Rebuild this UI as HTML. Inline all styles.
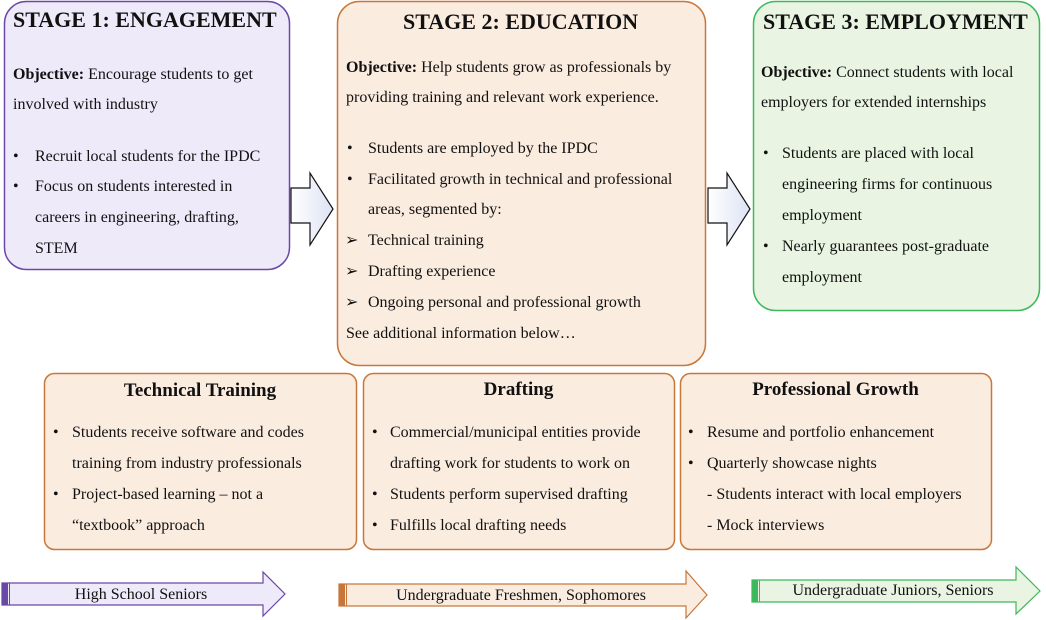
<!DOCTYPE html>
<html><head><meta charset="utf-8"><style>
body{margin:0;width:1046px;height:620px;background:#fff;position:relative;overflow:hidden;font-family:"Liberation Serif",serif;color:#111}
.t{position:absolute;font-size:16px;line-height:20px;white-space:nowrap}
.h{position:absolute;font-size:22px;font-weight:bold;line-height:26px;white-space:nowrap}
.h2{position:absolute;font-size:19px;font-weight:bold;line-height:24px;white-space:nowrap;text-align:center}
svg{position:absolute;left:0;top:0}
</style></head><body>
<svg width="1046" height="620">
<rect x="4.5" y="1.5" width="285" height="268" rx="22" fill="#efeafa" stroke="#6a48a8" stroke-width="1.5"/>
<rect x="337.5" y="1.5" width="368" height="364" rx="22" fill="#fbece0" stroke="#c8773a" stroke-width="1.5"/>
<rect x="753.5" y="1.5" width="286" height="309" rx="22" fill="#e9f5e2" stroke="#3cb95a" stroke-width="1.5"/>
<rect x="44.5" y="373.5" width="312" height="176" rx="10" fill="#fbece0" stroke="#c8773a" stroke-width="1.5"/>
<rect x="363.5" y="373.5" width="311" height="176" rx="10" fill="#fbece0" stroke="#c8773a" stroke-width="1.5"/>
<rect x="680.5" y="373.5" width="311" height="176" rx="10" fill="#fbece0" stroke="#c8773a" stroke-width="1.5"/>
<defs><linearGradient id="g" x1="0" x2="1"><stop offset="0" stop-color="#fff"/><stop offset="1" stop-color="#dde3f3"/></linearGradient></defs>
<polygon points="291,188 310,188 310,173 333,209 310,245 310,223 291,223" fill="url(#g)" stroke="#111" stroke-width="1.2"/>
<polygon points="708,188 727,188 727,173 750,209 727,245 727,223 708,223" fill="url(#g)" stroke="#111" stroke-width="1.2"/>
<polygon points="2,583 263,583 263,572 285,594 263,616 263,605 2,605" fill="#efeafa" stroke="#6a48a8" stroke-width="1.2"/>
<rect x="2" y="583" width="6" height="22" fill="#6a48a8"/><line x1="9.5" y1="583" x2="9.5" y2="605" stroke="#6a48a8"/>
<polygon points="339,584 686,584 686,571 707,595 686,618 686,606 339,606" fill="#fbece0" stroke="#c8773a" stroke-width="1.2"/>
<rect x="339" y="584" width="6" height="22" fill="#c8773a"/><line x1="346.5" y1="584" x2="346.5" y2="606" stroke="#c8773a"/>
<polygon points="752,580 1016,580 1016,567 1040,591 1016,614 1016,602 752,602" fill="#e9f5e2" stroke="#3cb95a" stroke-width="1.2"/>
<rect x="752" y="580" width="6" height="22" fill="#3cb95a"/><line x1="759.5" y1="580" x2="759.5" y2="602" stroke="#3cb95a"/>
</svg>

<div class="h" style="left:13px;top:7px">STAGE 1: ENGAGEMENT</div>
<div class="t" style="left:13px;top:65px"><b>Objective:</b> Encourage students to get</div>
<div class="t" style="left:13px;top:95px">involved with industry</div>
<div class="t" style="left:13px;top:147px">•</div><div class="t" style="left:35px;top:147px">Recruit local students for the IPDC</div>
<div class="t" style="left:13px;top:177px">•</div><div class="t" style="left:35px;top:177px">Focus on students interested in</div>
<div class="t" style="left:35px;top:208px">careers in engineering, drafting,</div>
<div class="t" style="left:35px;top:239px">STEM</div>

<div class="h" style="left:403px;top:9px">STAGE 2: EDUCATION</div>
<div class="t" style="left:346px;top:58px"><b>Objective:</b> Help students grow as professionals by</div>
<div class="t" style="left:346px;top:88px">providing training and relevant work experience.</div>
<div class="t" style="left:347px;top:139px">•</div><div class="t" style="left:368px;top:139px">Students are employed by the IPDC</div>
<div class="t" style="left:347px;top:170px">•</div><div class="t" style="left:368px;top:170px">Facilitated growth in technical and professional</div>
<div class="t" style="left:368px;top:200px">areas, segmented by:</div>
<div class="t" style="left:345px;top:231px">➢</div><div class="t" style="left:368px;top:231px">Technical training</div>
<div class="t" style="left:345px;top:262px">➢</div><div class="t" style="left:368px;top:262px">Drafting experience</div>
<div class="t" style="left:345px;top:293px">➢</div><div class="t" style="left:368px;top:293px">Ongoing personal and professional growth</div>
<div class="t" style="left:346px;top:324px">See additional information below…</div>

<div class="h" style="left:763px;top:9px">STAGE 3: EMPLOYMENT</div>
<div class="t" style="left:761px;top:63px"><b>Objective:</b> Connect students with local</div>
<div class="t" style="left:761px;top:93px">employers for extended internships</div>
<div class="t" style="left:763px;top:144px">•</div><div class="t" style="left:782px;top:144px">Students are placed with local</div>
<div class="t" style="left:782px;top:175px">engineering firms for continuous</div>
<div class="t" style="left:782px;top:206px">employment</div>
<div class="t" style="left:763px;top:237px">•</div><div class="t" style="left:782px;top:237px">Nearly guarantees post-graduate</div>
<div class="t" style="left:782px;top:268px">employment</div>

<div class="h2" style="left:44px;width:312px;top:379px">Technical Training</div>
<div class="t" style="left:53px;top:423px">•</div><div class="t" style="left:72px;top:423px">Students receive software and codes</div>
<div class="t" style="left:72px;top:454px">training from industry professionals</div>
<div class="t" style="left:53px;top:485px">•</div><div class="t" style="left:72px;top:485px">Project-based learning – not a</div>
<div class="t" style="left:72px;top:516px">“textbook” approach</div>

<div class="h2" style="left:363px;width:311px;top:378px">Drafting</div>
<div class="t" style="left:372px;top:423px">•</div><div class="t" style="left:390px;top:423px">Commercial/municipal entities provide</div>
<div class="t" style="left:390px;top:454px">drafting work for students to work on</div>
<div class="t" style="left:372px;top:485px">•</div><div class="t" style="left:390px;top:485px">Students perform supervised drafting</div>
<div class="t" style="left:372px;top:516px">•</div><div class="t" style="left:390px;top:516px">Fulfills local drafting needs</div>

<div class="h2" style="left:680px;width:311px;top:378px">Professional Growth</div>
<div class="t" style="left:688px;top:423px">•</div><div class="t" style="left:707px;top:423px">Resume and portfolio enhancement</div>
<div class="t" style="left:688px;top:454px">•</div><div class="t" style="left:707px;top:454px">Quarterly showcase nights</div>
<div class="t" style="left:707px;top:485px">- Students interact with local employers</div>
<div class="t" style="left:707px;top:516px">- Mock interviews</div>

<div class="t" style="left:10px;width:262px;text-align:center;top:585px">High School Seniors</div>
<div class="t" style="left:347px;width:348px;text-align:center;top:586px">Undergraduate Freshmen, Sophomores</div>
<div class="t" style="left:760px;width:266px;text-align:center;top:581px">Undergraduate Juniors, Seniors</div>
</body></html>
